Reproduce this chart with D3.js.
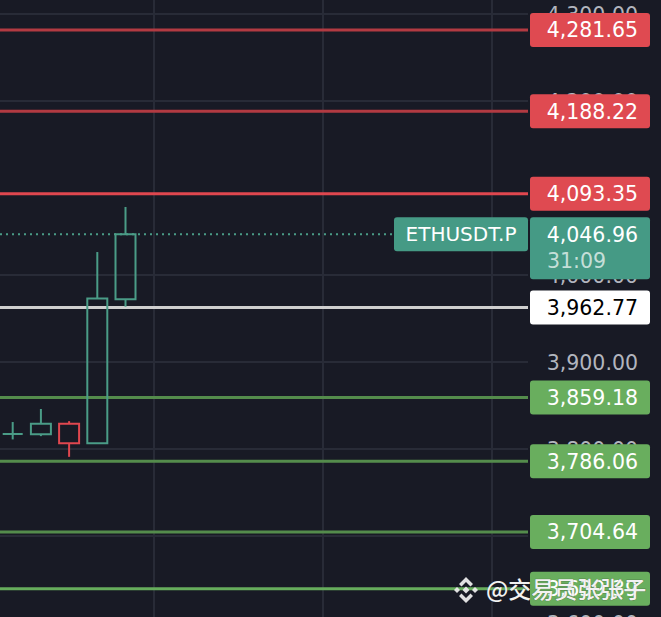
<!DOCTYPE html>
<html>
<head>
<meta charset="utf-8">
<script src="https://cdn.jsdelivr.net/npm/d3@7"></script>
<style>
  html, body { margin: 0; padding: 0; background: #181a25; }
  svg { display: block; }
</style>
</head>
<body>
<svg id="chart" width="661" height="617"></svg>
<script>
// ---------- DATA ----------
const candleIndex = [0, 1, 2, 3, 4];
const opens  = [3817.3, 3817.0, 3829.0, 3806.6, 3972.0];
const highs  = [3831.0, 3846.0, 3832.0, 4026.4, 4078.2];
const lows   = [3811.0, 3814.8, 3791.0, 3806.6, 3963.6];
const closes = [3817.3, 3829.0, 3806.6, 3973.0, 4046.96];

const gridTicks = [3600, 3700, 3800, 3900, 4000, 4200, 4300];
const labelTicks = [3600, 3800, 3900, 4000, 4200, 4300];
const levelValues = [4281.65, 4188.22, 4093.35, 3962.77, 3859.18, 3786.06, 3704.64, 3639.39];
const levelKinds  = ["resist", "resist", "resist2", "pivot", "support", "support", "support", "support2"];
const verticalGridIndex = [5, 11, 17];

const symbolName = "ETHUSDT.P";
const lastPrice = 4046.96;
const countdown = "31:09";
const watermark = "@交易员张张子";

// ---------- STYLES ----------
const W = 661, H = 617;
const plotRight = 528;
const bg = "#181a25";
const gridColor = "#282b37";
const upColor = "#4a9c87";
const downColor = "#e0474f";
const kindStyle = {
  resist:   { line: "#b23a42", box: "#df4a51", text: "#ffffff" },
  resist2:  { line: "#e0474f", box: "#df4a51", text: "#ffffff" },
  pivot:    { line: "#cfcfcf", box: "#ffffff", text: "#000000" },
  support:  { line: "#548c4c", box: "#69ae5e", text: "#ffffff" },
  support2: { line: "#66ad5c", box: "#69ae5e", text: "#ffffff" }
};
const fmt = d3.format(",.2f");
const font = "'DejaVu Sans', sans-serif";

const svg = d3.select("#chart");
svg.append("rect").attr("width", W).attr("height", H).attr("fill", bg);

const y = d3.scaleLinear().domain([3600, 4300]).range([623, 14]);
const x = d3.scaleLinear().domain([0, 1]).range([12.7, 40.9]);
const bodyW = 20;

// grid
const gGrid = svg.append("g");
gGrid.selectAll("line.h").data(gridTicks).join("line")
  .attr("x1", 0).attr("x2", plotRight)
  .attr("y1", d => Math.round(y(d))).attr("y2", d => Math.round(y(d)))
  .attr("stroke", gridColor).attr("stroke-width", 2);
gGrid.selectAll("line.v").data(verticalGridIndex).join("line")
  .attr("x1", d => Math.round(x(d))).attr("x2", d => Math.round(x(d)))
  .attr("y1", 0).attr("y2", H)
  .attr("stroke", gridColor).attr("stroke-width", 2);

// axis tick labels (right)
const axis = d3.axisRight(y).tickValues(labelTicks)
  .tickFormat(fmt).tickSize(0).tickPadding(0);
const gAxis = svg.append("g").attr("transform", `translate(${plotRight},0)`).call(axis);
gAxis.select(".domain").remove();
gAxis.selectAll("text")
  .attr("x", 638 - plotRight).attr("text-anchor", "end")
  .attr("dy", "0.36em")
  .attr("fill", "#b2b5be").style("font-family", font).style("font-size", "20.5px");

// level lines
svg.append("g").selectAll("line").data(levelValues).join("line")
  .attr("x1", 0).attr("x2", plotRight)
  .attr("y1", d => y(d)).attr("y2", d => y(d))
  .attr("stroke", (d, i) => kindStyle[levelKinds[i]].line)
  .attr("stroke-width", 3);

// dotted last-price line
svg.append("line")
  .attr("x1", 0).attr("x2", 394)
  .attr("y1", y(lastPrice)).attr("y2", y(lastPrice))
  .attr("stroke", upColor).attr("stroke-width", 2)
  .attr("stroke-dasharray", "2 4");

// candles
const gC = svg.append("g");
candleIndex.forEach(i => {
  const o = opens[i], c = closes[i], h = highs[i], l = lows[i];
  const col = c >= o ? upColor : downColor;
  const cx = x(i);
  const yTop = y(Math.max(o, c)), yBot = y(Math.min(o, c));
  const x0 = cx - bodyW / 2, x1 = cx + bodyW / 2;
  if (y(h) < yTop - 0.5)
    gC.append("line").attr("x1", cx).attr("x2", cx).attr("y1", y(h)).attr("y2", yTop)
      .attr("stroke", col).attr("stroke-width", 2);
  if (y(l) > yBot + 0.5)
    gC.append("line").attr("x1", cx).attr("x2", cx).attr("y1", yBot).attr("y2", y(l))
      .attr("stroke", col).attr("stroke-width", 2);
  gC.append("path")
    .attr("d", `M${x0},${yTop}H${x1}V${yBot}H${x0}Z`)
    .attr("fill", "none").attr("stroke", col).attr("stroke-width", 2);
});

// level labels
const gL = svg.append("g");
levelValues.forEach((v, i) => {
  const st = kindStyle[levelKinds[i]];
  const cy = y(v);
  gL.append("rect").attr("x", 530).attr("y", cy - 17).attr("width", 120).attr("height", 34)
    .attr("rx", 3).attr("fill", st.box);
  gL.append("text").attr("x", 638).attr("y", cy).attr("dy", "0.36em")
    .attr("text-anchor", "end").attr("fill", st.text)
    .style("font-family", font).style("font-size", "20.5px").text(fmt(v));
});

// last price label
const lp = y(lastPrice);
gL.append("rect").attr("x", 394).attr("y", lp - 17).attr("width", 134).attr("height", 34)
  .attr("rx", 3).attr("fill", "#459a85");
gL.append("text").attr("x", 461).attr("y", lp).attr("dy", "0.36em")
  .attr("text-anchor", "middle").attr("fill", "#ffffff")
  .style("font-family", font).style("font-size", "20px").text(symbolName);
gL.append("rect").attr("x", 530).attr("y", lp - 17).attr("width", 120).attr("height", 62)
  .attr("rx", 3).attr("fill", "#459a85");
gL.append("text").attr("x", 638).attr("y", lp).attr("dy", "0.36em")
  .attr("text-anchor", "end").attr("fill", "#ffffff")
  .style("font-family", font).style("font-size", "20.5px").text(fmt(lastPrice));
gL.append("text").attr("x", 547).attr("y", lp + 26).attr("dy", "0.36em")
  .attr("text-anchor", "start").attr("fill", "rgba(255,255,255,0.7)")
  .style("font-family", font).style("font-size", "20.5px").text(countdown);

// watermark
const gW = svg.append("g").attr("transform", "translate(466,590)");
const diamond = (cx, cy, r) => `M${cx},${cy - r}L${cx + r},${cy}L${cx},${cy + r}L${cx - r},${cy}Z`;
const logoCol = "rgba(235,235,235,0.95)";
gW.append("path").attr("d", diamond(0, 0, 3.5)).attr("fill", logoCol);
[[-9, 0], [9, 0]].forEach(p => gW.append("path").attr("d", diamond(p[0], p[1], 3)).attr("fill", logoCol));
gW.append("path").attr("d", "M-7,-6L0,-13L7,-6L4.5,-3.5L0,-8L-4.5,-3.5Z").attr("fill", logoCol);
gW.append("path").attr("d", "M-7,6L0,13L7,6L4.5,3.5L0,8L-4.5,3.5Z").attr("fill", logoCol);
svg.append("text").attr("x", 486).attr("y", 590).attr("dy", "0.36em")
  .attr("fill", "#f2f2f2")
  .attr("stroke", "rgba(40,40,40,0.3)").attr("stroke-width", 1)
  .style("paint-order", "stroke")
  .style("font-family", "'Noto Sans CJK SC', sans-serif").style("font-size", "23px")
  .style("font-weight", 500)
  .text(watermark);
</script>
</body>
</html>
